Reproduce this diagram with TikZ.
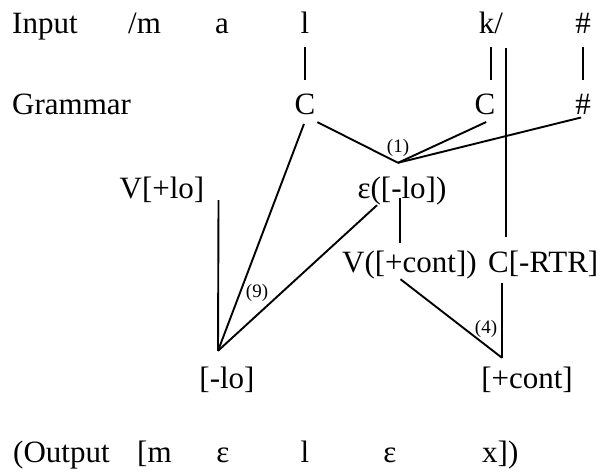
\documentclass[tikz,border=0pt]{standalone}
\usepackage{fontspec}
\setmainfont{Liberation Serif}

\begin{document}
\begin{tikzpicture}[
    x=1pt, y=-1pt,
    lab/.style={font=\fontsize{31}{37}\selectfont, inner sep=0pt,
        text height=21pt, text depth=7pt, anchor=base},
    labw/.style={lab, anchor=base west},
    num/.style={font=\fontsize{19}{22}\selectfont, inner sep=0pt},
    tie/.style={line width=1.9pt},
]
\useasboundingbox (0,0) rectangle (601,472);

% Input row
\node[labw] (input) at (12,33) {Input};
\node[labw] (im) at (128,33) {/m};
\node[lab] (ia) at (222,33) {a};
\node[lab] (il) at (305,33) {l};
\node[lab] (ik) at (491,33) {k/};
\node[lab] (ih) at (583,33) {\#};

% Grammar row
\node[labw] (gram) at (12,114) {Grammar};
\node[lab] (c1) at (305,114) {C};
\node[lab] (c2) at (485,114) {C};
\node[lab] (gh) at (583,114) {\#};

% Features
\node[lab] (vlo) at (162,198) {V[+lo]};
\node[lab] (eps) at (402,198) {ε([-lo])};
\node[labw] (vcont) at (342,272) {V([+cont])};
\node[labw] (crtr) at (488,272) {C[-RTR]};
\node[lab] (lo) at (227,388) {[-lo]};
\node[lab] (cont) at (527,388) {[+cont]};

% Output row
\node[labw] (output) at (13,462) {(Output};
\node[labw] (om) at (137,462) {[m};
\node[lab] (oe1) at (223,462) {ε};
\node[lab] (ol) at (305,462) {l};
\node[lab] (oe2) at (390,462) {ε};
\node[labw] (ox) at (482,462) {x])};

% Junctions
\coordinate (j1) at ([xshift=-4pt,yshift=14pt]eps.north);
\coordinate (j9) at ([xshift=-9pt,yshift=16pt]lo.north);
\coordinate (j4) at ([xshift=-25pt,yshift=9pt]cont.north);

\node[num] (n1) at ([yshift=15pt]j1) {(1)};
\node[num] (n9) at ([xshift=39pt,yshift=58pt]j9) {(9)};
\node[num] (n4) at ([xshift=-16pt,yshift=29pt]j4) {(4)};

% Associations
\draw[tie, shorten <=7pt, shorten >=13pt] (il.south) -- (c1.north);
\draw[tie, shorten <=7pt, shorten >=13pt] (ik.south) -- (ik.south |- c2.north);
\draw[tie, shorten <=7pt, shorten >=13pt] (ih.south) -- (gh.north);
\draw[tie, shorten <=8pt, shorten >=14pt]
    ([xshift=3pt]ik.south east) -- ([xshift=3pt]ik.south east |- crtr.north);

\draw[tie, shorten <=2pt] (c1.south east) -- (j1);
\draw[tie, shorten <=2pt] ([xshift=3pt]c2.south) -- (j1);
\draw[tie, shorten <=2pt] ([yshift=-3pt]gh.base) -- (j1);

\draw[tie, shorten <=3pt] (c1.south) -- (j9);
\draw[tie] ([xshift=-25pt]eps.south) -- (j9);
\draw[tie, shorten <=2pt] ([xshift=14pt]vlo.base east) -- (j9);

\draw[tie, shorten >=8pt] ([xshift=-2pt]eps.base) -- ([xshift=-2pt]eps.base |- vcont.north);
\draw[tie] ([xshift=-9pt]vcont.south) -- (j4);
\draw[tie, shorten <=4pt] ([xshift=14pt]crtr.south west) -- (j4);

\end{tikzpicture}
\end{document}
